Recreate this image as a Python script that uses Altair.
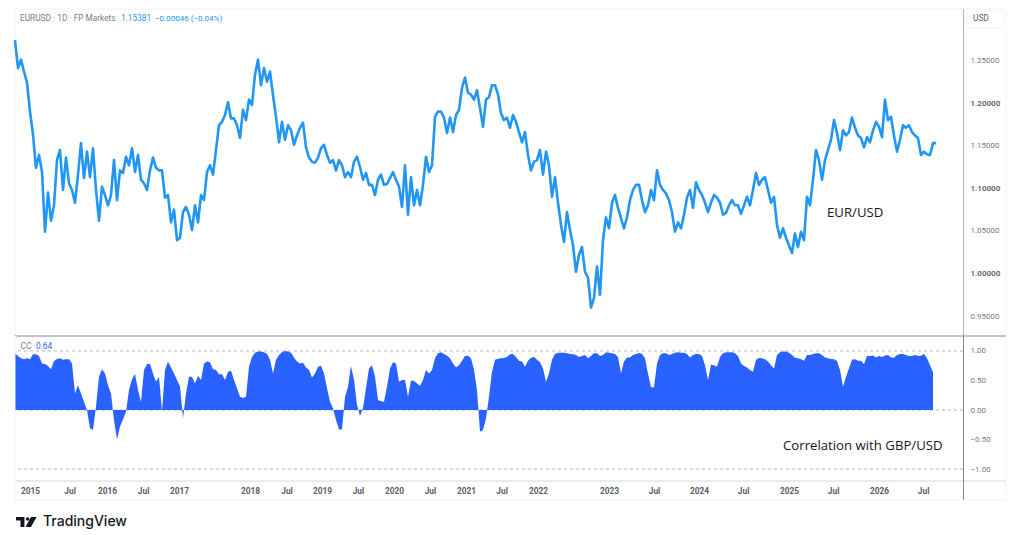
import altair as alt
import pandas as pd

# EUR/USD close, one sample per slot on the compressed time axis
eurusd = [
    1.274, 1.241, 1.251, 1.237, 1.224, 1.190, 1.163, 1.124, 1.139, 1.119, 1.049, 1.095, 1.062, 1.080, 1.133, 1.145,
    1.098, 1.136, 1.106, 1.098, 1.083, 1.116, 1.153, 1.112, 1.143, 1.113, 1.147, 1.098, 1.062, 1.102, 1.092, 1.080,
    1.092, 1.133, 1.086, 1.121, 1.118, 1.137, 1.127, 1.147, 1.119, 1.139, 1.110, 1.106, 1.098, 1.121, 1.136, 1.124,
    1.121, 1.121, 1.089, 1.092, 1.060, 1.075, 1.039, 1.042, 1.072, 1.078, 1.069, 1.051, 1.080, 1.060, 1.092, 1.086,
    1.119, 1.127, 1.116, 1.145, 1.174, 1.178, 1.186, 1.201, 1.182, 1.182, 1.174, 1.159, 1.192, 1.180, 1.204, 1.198,
    1.233, 1.251, 1.221, 1.241, 1.225, 1.237, 1.209, 1.184, 1.154, 1.178, 1.157, 1.174, 1.168, 1.151, 1.162, 1.171,
    1.177, 1.148, 1.136, 1.131, 1.130, 1.136, 1.147, 1.151, 1.139, 1.130, 1.133, 1.121, 1.133, 1.127, 1.113, 1.119,
    1.113, 1.131, 1.137, 1.125, 1.110, 1.118, 1.104, 1.104, 1.092, 1.110, 1.116, 1.104, 1.105, 1.112, 1.119, 1.110,
    1.102, 1.078, 1.127, 1.069, 1.113, 1.080, 1.098, 1.080, 1.104, 1.137, 1.119, 1.127, 1.184, 1.190, 1.190, 1.183,
    1.165, 1.183, 1.166, 1.186, 1.192, 1.218, 1.230, 1.212, 1.210, 1.204, 1.215, 1.194, 1.172, 1.204, 1.207, 1.221,
    1.221, 1.210, 1.188, 1.180, 1.183, 1.171, 1.186, 1.178, 1.166, 1.154, 1.166, 1.139, 1.121, 1.131, 1.133, 1.145,
    1.116, 1.143, 1.127, 1.090, 1.113, 1.083, 1.057, 1.037, 1.072, 1.051, 1.033, 1.002, 1.022, 1.031, 1.002, 0.995,
    0.960, 0.971, 1.008, 0.975, 1.039, 1.066, 1.053, 1.083, 1.092, 1.077, 1.065, 1.053, 1.066, 1.086, 1.098, 1.104,
    1.104, 1.086, 1.072, 1.080, 1.098, 1.086, 1.121, 1.104, 1.098, 1.094, 1.086, 1.072, 1.049, 1.060, 1.053, 1.069,
    1.089, 1.098, 1.077, 1.107, 1.098, 1.092, 1.083, 1.072, 1.083, 1.092, 1.089, 1.083, 1.069, 1.071, 1.080, 1.086,
    1.080, 1.080, 1.070, 1.080, 1.090, 1.080, 1.098, 1.118, 1.104, 1.110, 1.113, 1.098, 1.083, 1.090, 1.057, 1.042,
    1.053, 1.042, 1.033, 1.024, 1.047, 1.031, 1.049, 1.039, 1.090, 1.080, 1.110, 1.145, 1.133, 1.110, 1.133, 1.145,
    1.157, 1.180, 1.165, 1.145, 1.168, 1.162, 1.166, 1.183, 1.171, 1.162, 1.159, 1.148, 1.160, 1.154, 1.168, 1.178,
    1.172, 1.160, 1.204, 1.180, 1.184, 1.162, 1.143, 1.157, 1.174, 1.171, 1.174, 1.166, 1.162, 1.159, 1.139, 1.143,
    1.140, 1.139, 1.153, 1.153,
]

# correlation coefficient with GBP/USD
corr = [
    0.96, 0.915, 0.875, 0.86, 0.875, 0.86, 0.945, 0.945, 0.915, 0.79, 0.78, 0.745, 0.69, 0.83, 0.865, 0.875,
    0.85, 0.86, 0.86, 0.79, 0.28, 0.42, 0.28, 0.14, 0.0, -0.31, -0.34, 0.06, 0.565, 0.69, 0.62, 0.42,
    0.28, -0.17, -0.50, -0.28, -0.16, -0.03, 0.34, 0.52, 0.61, 0.34, 0.14, 0.68, 0.78, 0.78, 0.62, 0.48,
    0.565, -0.02, 0.68, 0.82, 0.72, 0.62, 0.51, 0.40, -0.14, 0.28, 0.565, 0.565, 0.45, 0.58, 0.51, 0.79,
    0.82, 0.81, 0.69, 0.68, 0.605, 0.605, 0.51, 0.65, 0.665, 0.51, 0.37, 0.225, 0.205, 0.225, 0.735, 0.90,
    0.97, 0.99, 0.99, 0.98, 0.95, 0.85, 0.62, 0.85, 0.93, 0.98, 1.00, 0.99, 0.97, 0.89, 0.82, 0.79,
    0.80, 0.72, 0.68, 0.55, 0.62, 0.735, 0.75, 0.62, 0.37, 0.14, 0.03, -0.17, -0.33, -0.33, 0.225, 0.395,
    0.745, 0.51, 0.085, -0.10, 0.03, 0.37, 0.705, 0.76, 0.565, 0.17, 0.15, 0.14, 0.395, 0.705, 0.81, 0.79,
    0.48, 0.51, 0.51, 0.225, 0.50, 0.49, 0.45, 0.41, 0.51, 0.68, 0.62, 0.68, 0.875, 0.96, 0.98, 0.95,
    0.92, 0.875, 0.79, 0.72, 0.76, 0.835, 0.915, 0.92, 0.875, 0.68, 0.34, -0.37, -0.34, -0.14, 0.225, 0.65,
    0.85, 0.87, 0.875, 0.88, 0.90, 0.945, 0.95, 0.90, 0.835, 0.82, 0.735, 0.835, 0.885, 0.90, 0.85, 0.81,
    0.705, 0.48, 0.62, 0.85, 0.95, 0.97, 0.97, 0.97, 0.96, 0.95, 0.945, 0.93, 0.90, 0.915, 0.93, 0.875,
    0.915, 0.96, 0.96, 0.915, 0.93, 0.98, 0.97, 0.96, 0.95, 0.90, 0.62, 0.82, 0.89, 0.89, 0.93, 0.95,
    0.965, 0.95, 0.875, 0.62, 0.385, 0.385, 0.79, 0.93, 0.96, 0.96, 0.93, 0.95, 0.97, 0.98, 0.97, 0.97,
    0.95, 0.89, 0.93, 0.95, 0.95, 0.915, 0.76, 0.51, 0.77, 0.76, 0.735, 0.90, 0.96, 0.98, 0.98, 0.98,
    0.96, 0.915, 0.79, 0.745, 0.72, 0.68, 0.65, 0.85, 0.88, 0.875, 0.86, 0.82, 0.76, 0.705, 0.93, 0.98,
    0.99, 0.99, 0.97, 0.93, 0.885, 0.875, 0.86, 0.835, 0.93, 0.93, 0.95, 0.96, 0.96, 0.93, 0.89, 0.875,
    0.865, 0.86, 0.83, 0.68, 0.395, 0.565, 0.705, 0.85, 0.86, 0.835, 0.835, 0.78, 0.915, 0.915, 0.925, 0.89,
    0.915, 0.90, 0.925, 0.93, 0.89, 0.885, 0.93, 0.95, 0.95, 0.93, 0.915, 0.915, 0.93, 0.915, 0.92, 0.95,
    0.875, 0.76, 0.64,
]

# time axis, slots are not even across years (TradingView compresses by bar)
tick_slots = [5, 18.2, 30.7, 42.7, 54.7, 78.3, 90.5, 102.3, 114.3, 126.3, 138.3, 150.3, 162.2, 174.3,
              198, 213, 228, 242.7, 258, 272.7, 288, 302.7]
tick_labels = ['2015', 'Jul', '2016', 'Jul', '2017', '2018', 'Jul', '2019', 'Jul', '2020', 'Jul', '2021',
               'Jul', '2022', '2023', 'Jul', '2024', 'Jul', '2025', 'Jul', '2026', 'Jul']
price_ticks = [0.95, 1.00, 1.05, 1.10, 1.15, 1.20, 1.25]
corr_ticks = [-1, -0.5, 0, 0.5, 1]
corr_guides = [1, 0, -1]

BLUE = '#2196F3'
FILL = '#2962FF'
GREY = '#787B86'
DARK = '#5A5D68'
INK = '#131722'
FRAME = '#F0F3FA'
FONT = 'Roboto'

W = 948
H_TOP = 328
H_LOW = 145

price_df = pd.DataFrame({'slot': range(len(eurusd)), 'price': eurusd})
corr_df = pd.DataFrame({'slot': range(len(corr)), 'cc': corr})
guide_df = pd.DataFrame({'level': corr_guides})
one = pd.DataFrame({'a': [0]})

tick_map = ','.join(f"'{s}':'{l}'" for s, l in zip(tick_slots, tick_labels))
x_scale = alt.Scale(domain=[0, W / 3], nice=False, zero=False)
cc_scale = alt.Scale(domain=[-1.203, 1.254], nice=False, zero=False)
cc_axis = alt.Axis(orient='right', values=corr_ticks, format='.2f', title=None, grid=False, domain=False,
                   ticks=False, labelPadding=7, labelFont=FONT, labelFontSize=8, labelOverlap=False,
                   labelColor=GREY)


def hline(y, x1, x2, color):
    return alt.Chart(one).mark_rule(color=color, strokeWidth=1).encode(
        x=alt.value(x1), x2=alt.value(x2), y=alt.value(y))


def vline(x, y1, y2, color):
    return alt.Chart(one).mark_rule(color=color, strokeWidth=1).encode(
        x=alt.value(x), y=alt.value(y1), y2=alt.value(y2))


def label(txt, x, y, size=8.3, color=GREY, font=FONT, weight=400):
    return alt.Chart(one).mark_text(text=txt, align='left', baseline='middle', fontSize=size,
                                    color=color, font=font, fontWeight=weight).encode(
        x=alt.value(x), y=alt.value(y))


# upper pane
line = alt.Chart(price_df).mark_line(color=BLUE, strokeWidth=2.6, strokeJoin='round').encode(
    x=alt.X('slot:Q', scale=x_scale, axis=None),
    y=alt.Y('price:Q', scale=alt.Scale(domain=[0.9266, 1.3116], nice=False, zero=False),
            axis=alt.Axis(orient='right', values=price_ticks, format='.5f', title=None, grid=False,
                          domain=False, ticks=False, labelPadding=7, labelFont=FONT, labelFontSize=8,
                          labelOverlap=False,
                          labelColor={'condition': {'test': 'datum.value==1||datum.value==1.1||datum.value==1.2',
                                                    'value': DARK}, 'value': GREY},
                          labelFontWeight={'condition': {'test': 'datum.value==1||datum.value==1.1||datum.value==1.2',
                                                         'value': 600}, 'value': 400}))
)

usd_box = alt.Chart(one).mark_rect(fill='white', stroke=FRAME, cornerRadius=3).encode(
    x=alt.value(952), x2=alt.value(989), y=alt.value(3), y2=alt.value(20))

top = alt.layer(
    hline(1, 0, 991, FRAME),
    vline(0, 1, H_TOP, FRAME),
    vline(991, 1, H_TOP, FRAME),
    vline(948.5, 1, H_TOP, '#B2B5BE'),
    usd_box,
    label('USD', 958, 10.5, color=DARK),
    line,
    label('EURUSD · 1D · FP Markets', 5, 10.5, color=GREY),
    label('1.15381', 106, 10.5, color=BLUE),
    label('−0.00046 (−0.04%)', 140, 10.5, size=8, color=BLUE),
    label('EUR/USD', 812, 205, size=13.2, color=INK, font='Open Sans'),
).properties(width=W, height=H_TOP)

# lower pane
guides = alt.Chart(guide_df).mark_rule(color='#B2B5BE', strokeWidth=1, strokeDash=[3, 3]).encode(
    y=alt.Y('level:Q', scale=cc_scale, axis=cc_axis)
)

area = alt.Chart(corr_df).mark_area(color=FILL, opacity=1).encode(
    x=alt.X('slot:Q', scale=x_scale, axis=alt.Axis(
        values=tick_slots, title=None, grid=False, domain=False, ticks=False, labelPadding=5.5,
        labelExpr='{' + tick_map + '}[datum.value]', labelOverlap=False, labelFlush=False, labelFont=FONT,
        labelFontSize=8.3,
        labelColor={'condition': {'test': "datum.label=='Jul'", 'value': GREY}, 'value': DARK},
        labelFontWeight={'condition': {'test': "datum.label=='Jul'", 'value': 400}, 'value': 700})),
    y=alt.Y('cc:Q', scale=cc_scale, axis=cc_axis)
)

logo = alt.Chart(one).mark_point(
    shape=('M-1,-0.48 L-0.18,-0.48 L-0.18,0.48 L-0.56,0.48 L-0.56,-0.145 L-1,-0.145 Z '
           'M-0.045,-0.29 A0.165,0.165 0 1,1 0.285,-0.29 A0.165,0.165 0 1,1 -0.045,-0.29 Z '
           'M0.45,-0.48 L1,-0.48 L0.45,0.48 L-0.08,0.48 Z'),
    filled=True, color=INK, opacity=1, size=428
).encode(x=alt.value(11.3), y=alt.value(186))

low = alt.layer(
    guides,
    area,
    hline(0, 0, 991, '#868993'),
    hline(H_LOW, 0, 991, '#D6D8DD'),
    hline(164, 0, 991, FRAME),
    vline(0, 0, 164, FRAME),
    vline(991, 0, 164, FRAME),
    vline(948.5, 0, 164, '#868993'),
    label('CC', 5.5, 11, color=GREY),
    label('0.64', 21, 11, color=FILL),
    label('Correlation with GBP/USD', 768, 110, size=13.2, color=INK, font='Open Sans'),
    logo,
    label('TradingView', 28, 186, size=14, color=INK, font='Inter', weight=500),
).properties(width=W, height=H_LOW)

chart = alt.vconcat(top, low, spacing=0, bounds='flush').resolve_scale(x='independent', y='independent').properties(
    padding={'left': 5, 'top': 0, 'right': 0, 'bottom': 0}, background='white'
).configure_view(stroke=None)

chart.save('out.html', embed_options={'renderer': 'svg', 'actions': False})
